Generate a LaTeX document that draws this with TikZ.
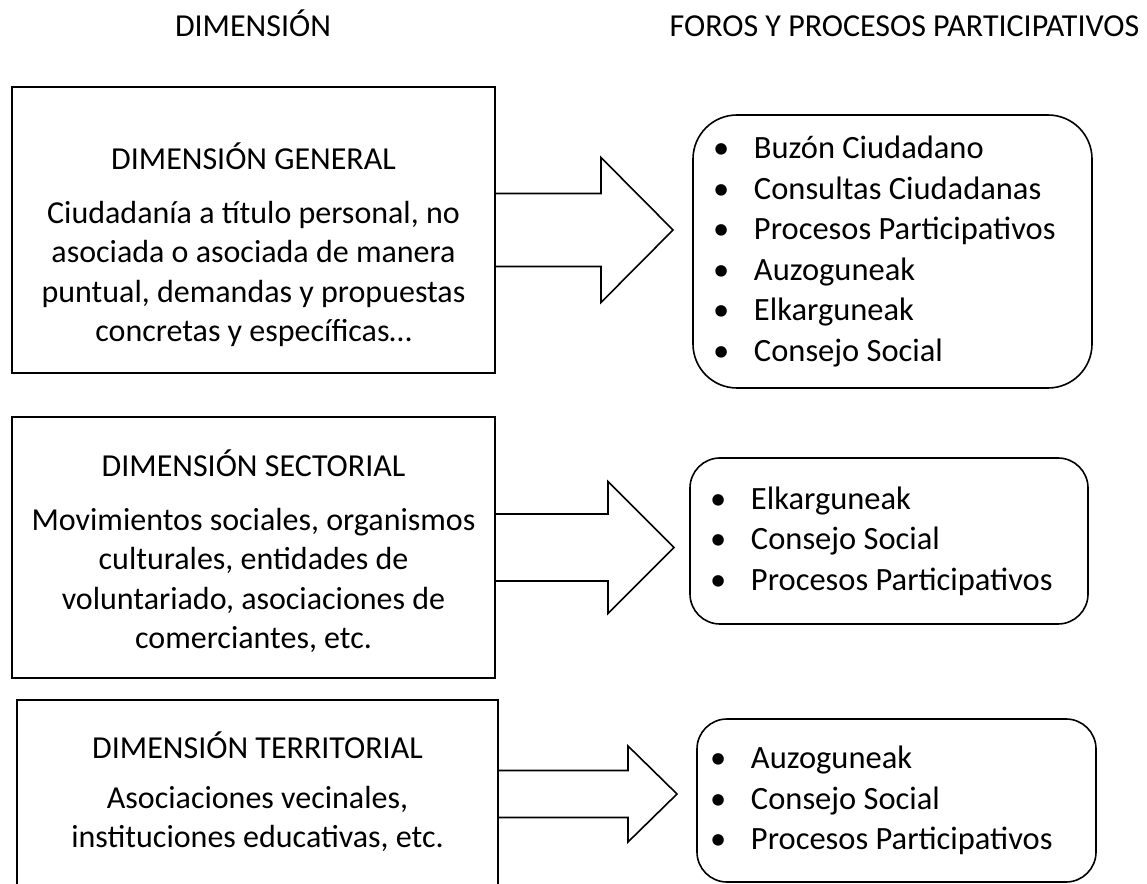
\documentclass[tikz,border=0pt]{standalone}
\usepackage{fontspec}
\setmainfont{Carlito}
\usetikzlibrary{calc}

\newcommand{\blockarrow}[5]{%
  \draw[arrowline] (#1.east) ++(0,#2) -- ++(#3,0) -- ++(0,#4-#2) -- ++(#5,-#4)
    -- ++(-#5,-#4) -- ++(0,#4-#2) -- ++(-#3,0);
}
\newcommand{\foroitem}[1]{\makebox[41pt][l]{\textbullet}#1}

\tikzset{
  x=1pt, y=1pt,
  every node/.style={font=\fontsize{32}{39.5}\selectfont, inner sep=0pt, outer sep=0pt},
  header/.style={anchor=base},
  dimbox/.style={draw, line width=1.6pt},
  dimtext/.style={align=center},
  forobox/.style={draw, line width=1.6pt, rounded corners=#1},
  forotext/.style={align=left, anchor=west, font=\fontsize{32.5}{40.5}\selectfont},
  arrowline/.style={line width=1.6pt, line join=miter}
}

\begin{document}
\begin{tikzpicture}
\useasboundingbox (0,0) rectangle (1147,883);
\clip (0,0) rectangle (1147,883);

\node[header] (hdim) at (253,846) {DIMENSIÓN};
\node[header] (hforos) at (904.5,846) {FOROS Y PROCESOS PARTICIPATIVOS};

% general
\node[dimbox, minimum width=483, minimum height=286] (gen) at (253.5,653) {};
\node[dimtext] (gentxt) at (253.5,638) {DIMENSIÓN GENERAL\\[14pt]
  Ciudadanía a título personal, no\\ asociada o asociada de manera\\
  puntual, demandas y propuestas\\ concretas y específicas\dots};
\node[forobox=44pt, minimum width=399, minimum height=273] (forosgen) at (892.5,631.5) {};
\node[forotext] (listgen) at ([xshift=20pt]forosgen.west) {\foroitem{Buzón Ciudadano}\\
  \foroitem{Consultas Ciudadanas}\\ \foroitem{Procesos Participativos}\\
  \foroitem{Auzoguneak}\\ \foroitem{Elkarguneak}\\ \foroitem{Consejo Social}};
\blockarrow{gen}{36.5}{106}{72.5}{72}

% sectorial
\node[dimbox, minimum width=483, minimum height=261] (sec) at (253.5,335.5) {};
\node[dimtext] (sectxt) at (253.5,331.5) {DIMENSIÓN SECTORIAL\\[14pt]
  Movimientos sociales, organismos\\ culturales, entidades de\\
  voluntariado, asociaciones de\\ comerciantes, etc.};
\node[forobox=30pt, minimum width=398, minimum height=166] (forossec) at (889,342) {};
\node[forotext] (listsec) at ([xshift=20pt]forossec.west) {\foroitem{Elkarguneak}\\
  \foroitem{Consejo Social}\\ \foroitem{Procesos Participativos}};
\blockarrow{sec}{33.5}{113}{66}{66}

% territorial
\node[dimbox, minimum width=481, minimum height=188] (ter) at (257.5,89) {};
\node[dimtext] (tertxt) at (257.5,91) {DIMENSIÓN TERRITORIAL\\[10pt]
  Asociaciones vecinales,\\ instituciones educativas, etc.};
\node[forobox=30pt, minimum width=399, minimum height=163] (foroster) at (896.5,82.5) {};
\node[forotext] (lister) at ([xshift=13pt]foroster.west) {\foroitem{Auzoguneak}\\
  \foroitem{Consejo Social}\\ \foroitem{Procesos Participativos}};
\blockarrow{ter}{23.5}{130}{48}{49}
\end{tikzpicture}
\end{document}
